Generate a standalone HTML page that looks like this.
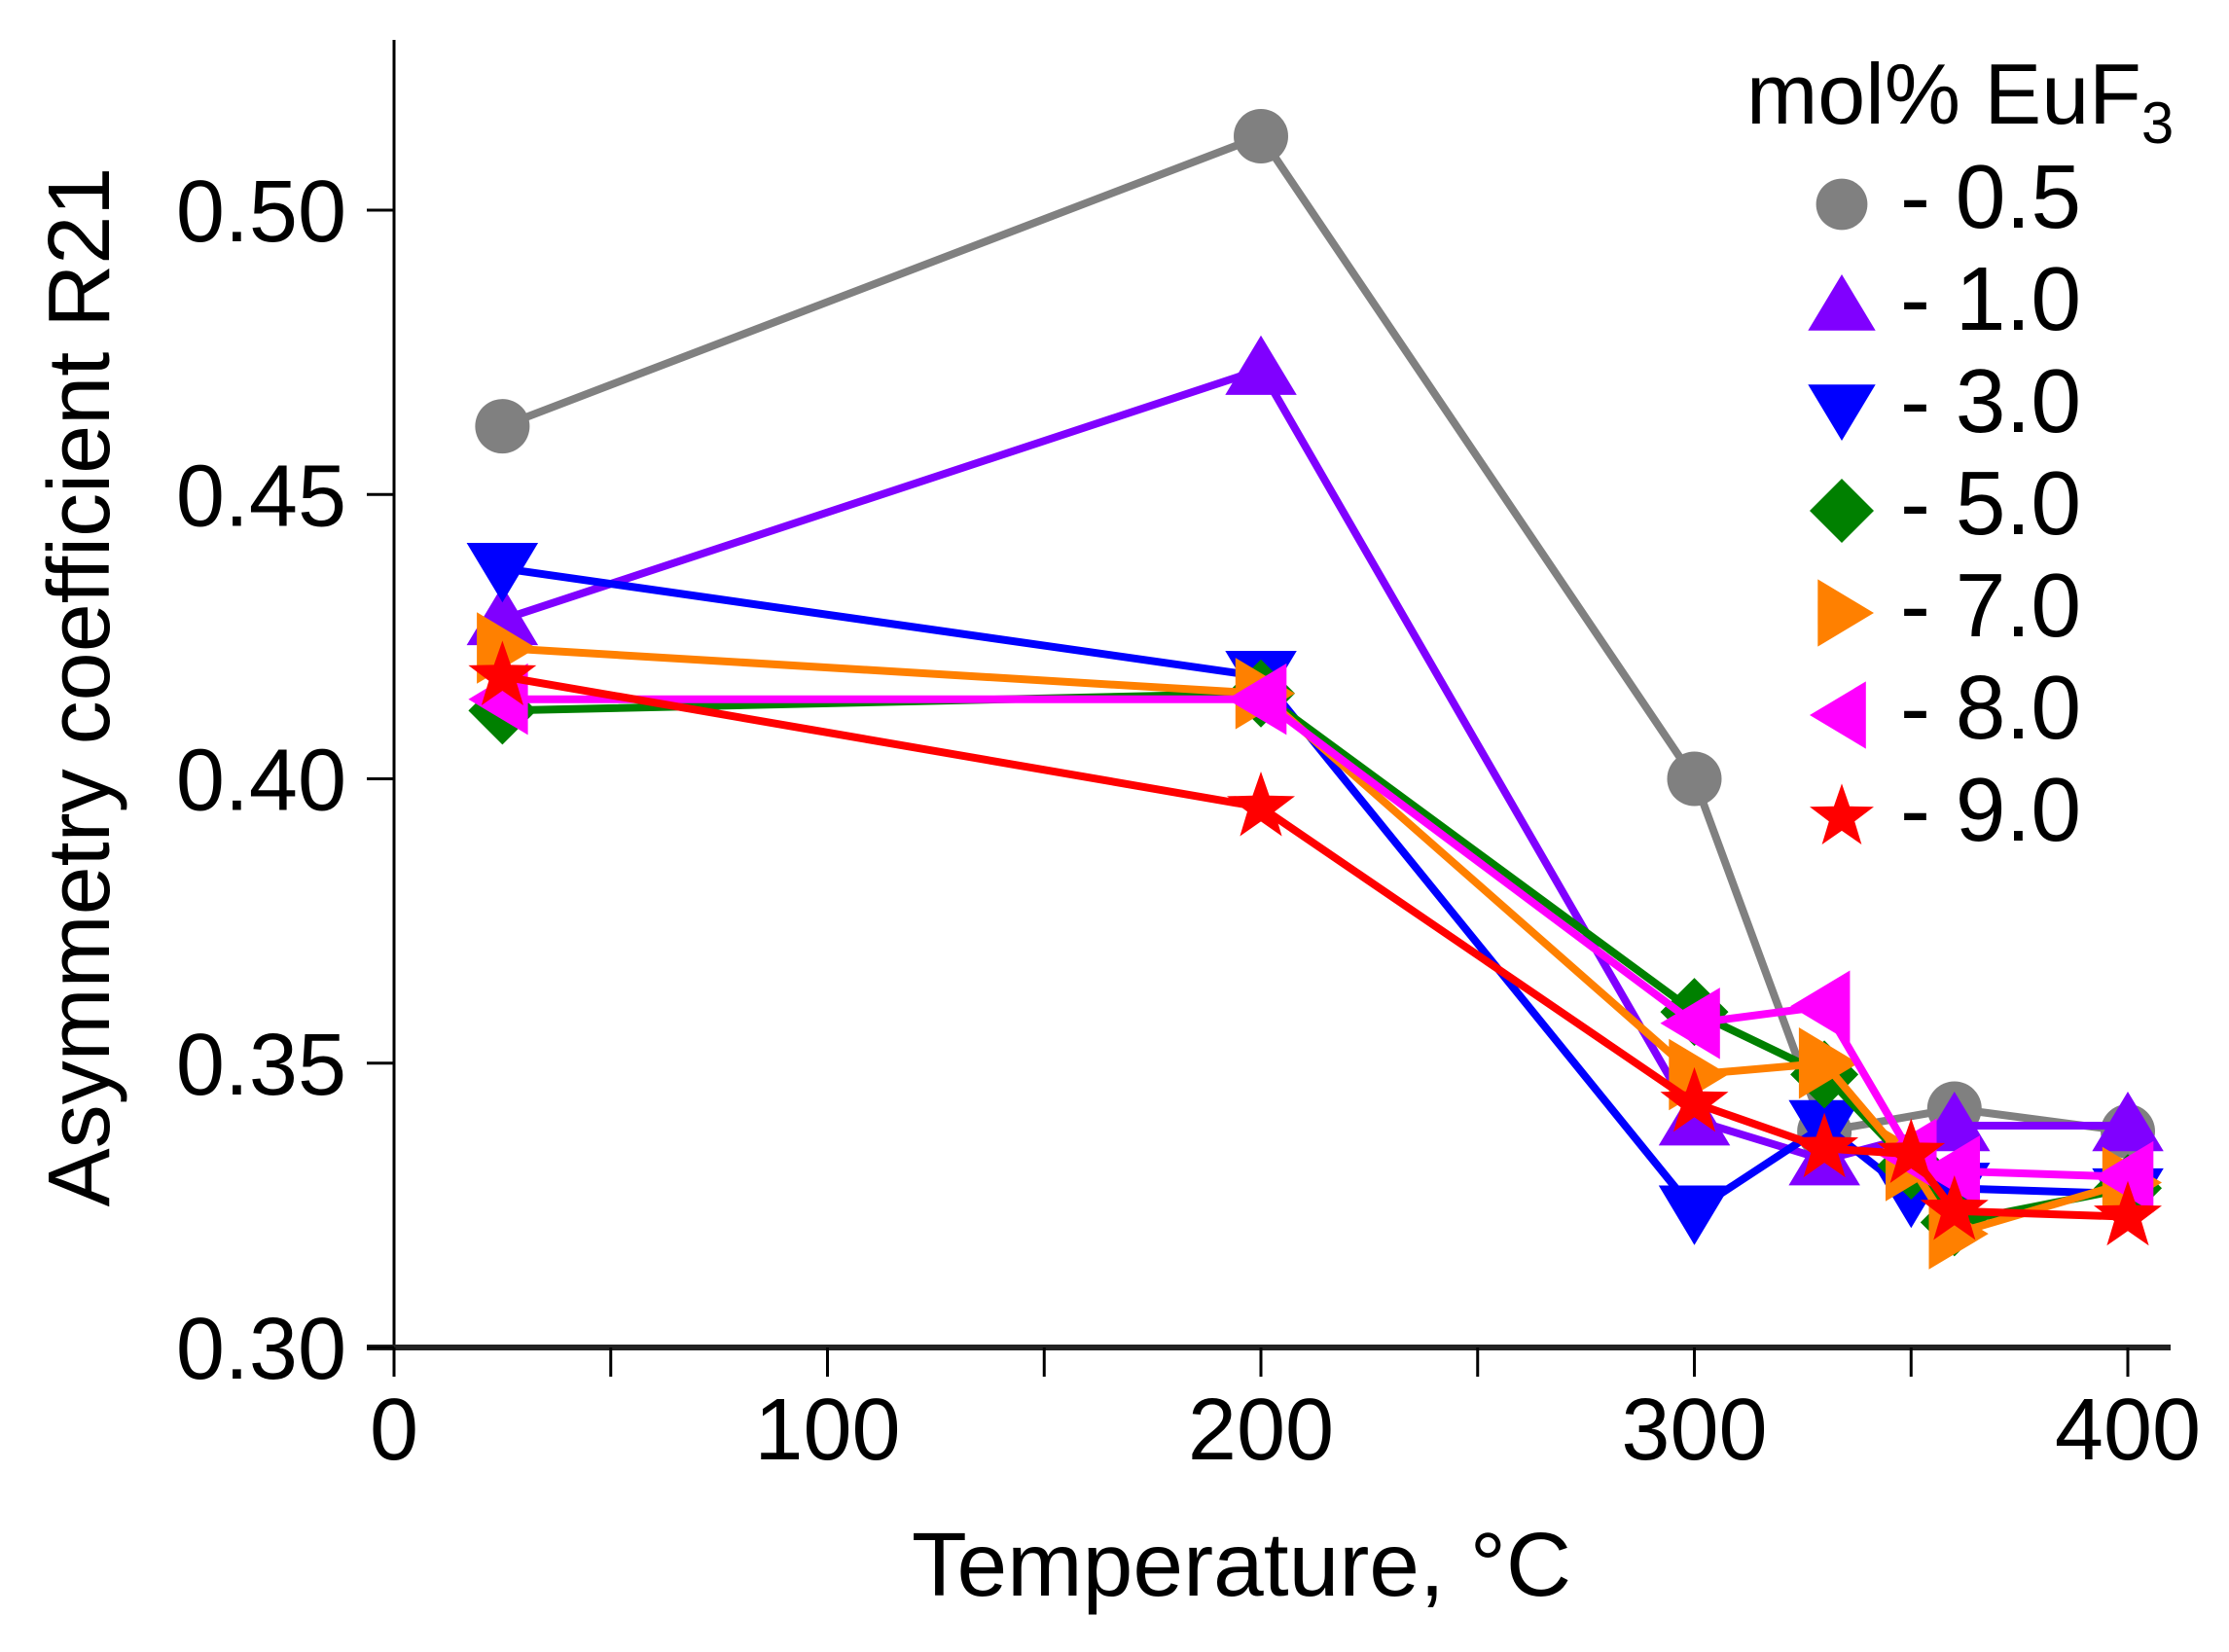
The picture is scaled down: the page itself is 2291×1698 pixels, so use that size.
<!DOCTYPE html>
<html><head><meta charset="utf-8"><style>
html,body{margin:0;padding:0;background:#fff;}
svg{display:block;font-family:"Liberation Sans",Arial,sans-serif;}
</style></head><body>
<svg id="chart" width="2291" height="1698" viewBox="0 0 2291 1698" xmlns="http://www.w3.org/2000/svg">
<g id="plot"></g>
<g id="axes"></g>
<g id="legend"></g>
</svg>
<script>
const temps = [25, 200, 300, 330, 350, 360, 400];
const seriesLabels = ["0.5", "1.0", "3.0", "5.0", "7.0", "8.0", "9.0"];
const seriesColors = ["#808080", "#8000ff", "#0000ff", "#008000", "#ff8000", "#ff00ff", "#ff0000"];
const seriesMarkers = ["circle", "up", "down", "diamond", "right", "left", "star"];
const s05 = [0.462, 0.513, 0.400, 0.338, null, 0.342, 0.338];
const s10 = [0.428, 0.472, 0.340, 0.333, null, 0.339, 0.339];
const s30 = [0.437, 0.418, 0.324, 0.339, 0.327, 0.328, 0.327];
const s50 = [0.412, 0.415, 0.359, 0.348, 0.332, 0.322, 0.328];
const s70 = [0.423, 0.415, 0.348, 0.350, 0.332, 0.320, 0.329];
const s80 = [0.414, 0.414, 0.357, 0.360, 0.334, 0.331, 0.330];
const s90 = [0.418, 0.395, 0.343, 0.335, 0.334, 0.324, 0.323];
const allSeries = [s05, s10, s30, s50, s70, s80, s90];
const xTicks = [0, 100, 200, 300, 400];
const xMinor = [50, 150, 250, 350];
const yTicks = [0.30, 0.35, 0.40, 0.45, 0.50];

const NS = "http://www.w3.org/2000/svg";
const X0 = 405, X1 = 2187, Y0 = 1385, Y1 = 216;
function xs(v){ return X0 + (v - 0) / 400 * (X1 - X0); }
function ys(v){ return Y0 - (v - 0.30) / 0.20 * (Y0 - Y1); }
function mk(tag, attrs, parent){ const e = document.createElementNS(NS, tag); for (const k in attrs) e.setAttribute(k, attrs[k]); parent.appendChild(e); return e; }

function marker(type, cx, cy, s, color, parent){
  let e;
  if (type === "circle") e = mk("circle", {cx:cx, cy:cy, r:s*0.8, fill:color}, parent);
  else {
    let pts;
    if (type === "up") pts = [[0,-s],[s*1.05,s*0.75],[-s*1.05,s*0.75]];
    else if (type === "down") pts = [[0,s],[s*1.05,-s*0.75],[-s*1.05,-s*0.75]];
    else if (type === "right") pts = [[s,0],[-s*0.75,s*1.05],[-s*0.75,-s*1.05]];
    else if (type === "left") pts = [[-s,0],[s*0.75,s*1.05],[s*0.75,-s*1.05]];
    else if (type === "diamond") pts = [[0,-s],[s,0],[0,s],[-s,0]];
    else { pts = []; for (let i=0;i<10;i++){ const a = -Math.PI/2 + i*Math.PI/5; const r = i%2 ? s*0.42 : s*1.05; pts.push([r*Math.cos(a), r*Math.sin(a)]); } }
    e = mk("polygon", {points: pts.map(p => (cx+p[0]).toFixed(1)+","+(cy+p[1]).toFixed(1)).join(" "), fill:color}, parent);
  }
  return e;
}

const plot = document.getElementById("plot");
allSeries.forEach((vals, si) => {
  const g = mk("g", {}, plot);
  
  
  const pts = [];
  vals.forEach((v, i) => { if (v !== null) pts.push([xs(temps[i]), ys(v)]); });
  const line = mk("polyline", {points: pts.map(p => p[0].toFixed(1)+","+p[1].toFixed(1)).join(" "), fill:"none", stroke:seriesColors[si], "stroke-width":8, "stroke-linejoin":"round"}, g);
  
  
  vals.forEach((v, i) => {
    if (v === null) return;
    const m = marker(seriesMarkers[si], xs(temps[i]), ys(v), 35, seriesColors[si], g);
    
    
  });
});

const axes = document.getElementById("axes");
const yAxis = mk("line", {x1:X0, y1:41, x2:X0, y2:Y0+2, stroke:"#000", "stroke-width":3}, axes);


const xAxis = mk("line", {x1:X0-28, y1:Y0, x2:2231, y2:Y0, stroke:"#222", "stroke-width":6}, axes);


xTicks.concat(xMinor).forEach(t => {
  const tk = mk("line", {x1:xs(t), y1:Y0, x2:xs(t), y2:Y0+30, stroke:"#000", "stroke-width":3}, axes);
  
  
});
xTicks.forEach(t => {
  const tx = mk("text", {x:xs(t), y:1500, "text-anchor":"middle", "font-size":90, fill:"#000"}, axes);
  tx.textContent = String(t);
  
  
});
yTicks.forEach(t => {
  const tk = mk("line", {x1:X0-28, y1:ys(t), x2:X0, y2:ys(t), stroke:"#000", "stroke-width":3}, axes);
  
  
  const tx = mk("text", {x:356, y:ys(t)+32, "text-anchor":"end", "font-size":90, fill:"#000"}, axes);
  tx.textContent = t.toFixed(2);
  
  
});
const xt = mk("text", {x:1276, y:1640, "text-anchor":"middle", "font-size":93, fill:"#000"}, axes);
xt.textContent = "Temperature, °C";


const yt = mk("text", {x:0, y:0, "text-anchor":"middle", "font-size":90, fill:"#000", transform:"translate(112,706) rotate(-90)"}, axes);
yt.textContent = "Asymmetry coefficient R21";



const legend = document.getElementById("legend");
const lt = mk("text", {x:1795, y:127, "font-size":88, fill:"#000"}, legend);
lt.innerHTML = 'mol% EuF<tspan font-size="60" dy="20">3</tspan>';


seriesLabels.forEach((lab, i) => {
  const cy = 210 + i * 105;
  const g = mk("g", {}, legend);
  
  
  marker(seriesMarkers[i], 1893, cy, 33, seriesColors[i], g);
  const t = mk("text", {x:1953, y:cy + 24, "font-size":93, fill:"#000"}, g);
  t.textContent = "- " + lab;
});
</script>
</body></html>
